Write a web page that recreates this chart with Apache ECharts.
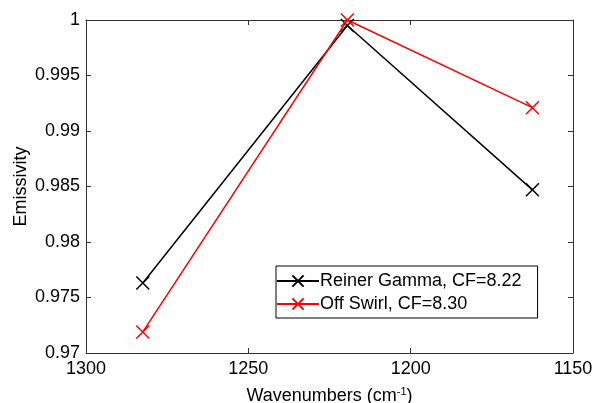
<!DOCTYPE html>
<html>
<head>
    <meta charset="utf-8">
    <title>Emissivity vs Wavenumbers</title>
    <script src="https://cdn.jsdelivr.net/npm/echarts@6/dist/echarts.min.js"></script>
    <style>
        html, body { margin: 0; padding: 0; background: #fff; }
        #main { width: 597px; height: 403px; }
    </style>
</head>
<body>
<div id="main"></div>
<script type="text/javascript">
    // data
    var wavenumbers = [1282.5, 1219.5, 1162.5];
    var reinerGamma = [0.9763, 0.9995, 0.9847];
    var offSwirl = [0.9719, 1.0000, 0.9921];
    var seriesNames = ['Reiner Gamma, CF=8.22', 'Off Swirl, CF=8.30'];
    var seriesColors = ['#000000', '#ff0000'];

    var xMarker = 'path://M0,0L10,10M10,0L0,10';
    var font = 'Liberation Sans, Arial, sans-serif';

    function pairs(xs, ys) {
        var out = [];
        for (var i = 0; i < xs.length; i++) out.push([xs[i], ys[i]]);
        return out;
    }

    function makeSeries(name, color, ys) {
        return {
            name: name,
            type: 'line',
            data: pairs(wavenumbers, ys),
            symbol: xMarker,
            symbolSize: 13,
            showAllSymbol: true,
            lineStyle: { color: color, width: 1.5 },
            itemStyle: { color: 'rgba(0,0,0,0)', borderColor: color, borderWidth: 1.5 },
            emphasis: { disabled: true },
            animation: false
        };
    }

    var myChart = echarts.init(document.getElementById('main'));
    var axisLine = { show: true, lineStyle: { color: '#333', width: 1 } };
    var tick = { inside: true, length: 5, lineStyle: { color: '#333' } };
    var option = {
        backgroundColor: '#fff',
        textStyle: { fontFamily: font },
        grid: { left: 86, right: 24, top: 20, bottom: 50, outerBoundsMode: 'none', containLabel: false },
        legend: {
            orient: 'vertical',
            left: 276,
            top: 266,
            padding: [6, 16, 5, 0],
            itemGap: 5,
            itemWidth: 42,
            itemHeight: 14,
            borderColor: '#000',
            borderWidth: 1,
            borderRadius: 0,
            backgroundColor: '#fff',
            textStyle: { fontSize: 18, color: '#000', fontFamily: font, padding: [0, 0, 0, -4] },
            data: seriesNames
        },
        xAxis: [{
            type: 'value',
            inverse: true,
            min: 1150,
            max: 1300,
            interval: 50,
            axisLine: axisLine,
            axisTick: tick,
            splitLine: { show: false },
            axisLabel: { fontSize: 18, color: '#000', margin: 7, formatter: function (v) { return String(v); } },
            name: '{a|Wavenumbers (cm}{s|-1}{a|)}',
            nameLocation: 'middle',
            nameGap: 33,
            nameMoveOverlap: false,
            nameTextStyle: {
                rich: {
                    a: { fontSize: 18, color: '#000', fontFamily: font },
                    s: { fontSize: 11, color: '#000', fontFamily: font, verticalAlign: 'top', padding: [0, 0, 10, 0] }
                }
            }
        }, {
            type: 'value',
            position: 'top',
            inverse: true,
            min: 1150,
            max: 1300,
            interval: 50,
            axisLine: axisLine,
            axisTick: tick,
            splitLine: { show: false },
            axisLabel: { show: false }
        }],
        yAxis: [{
            type: 'value',
            min: 0.97,
            max: 1,
            interval: 0.005,
            axisLine: axisLine,
            axisTick: tick,
            splitLine: { show: false },
            axisLabel: {
                fontSize: 18, color: '#000', margin: 6,
                formatter: function (v) { return parseFloat(v.toFixed(3)).toString(); }
            },
            name: 'Emissivity',
            nameLocation: 'middle',
            nameGap: 56,
            nameMoveOverlap: false,
            nameTextStyle: { fontSize: 18, color: '#000' }
        }, {
            type: 'value',
            position: 'right',
            min: 0.97,
            max: 1,
            interval: 0.005,
            axisLine: axisLine,
            axisTick: tick,
            splitLine: { show: false },
            axisLabel: { show: false }
        }],
        series: [
            makeSeries(seriesNames[0], seriesColors[0], reinerGamma),
            makeSeries(seriesNames[1], seriesColors[1], offSwirl)
        ]
    };
    myChart.setOption(option);
    window.onresize = myChart.resize;
</script>
</body>
</html>
